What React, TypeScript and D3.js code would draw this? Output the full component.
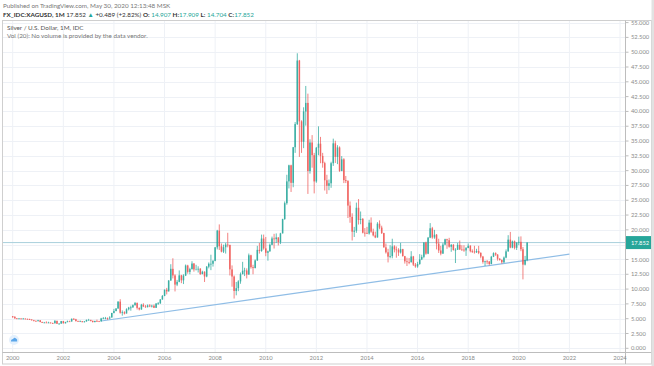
import * as d3 from 'd3';
import React from 'react';

// monthly closes, one row per year (2000 .. 2020)
const closes: number[][] = [
  [5.28, 5.05, 5.03, 5.04, 4.98, 5.02, 4.98, 4.93, 4.86, 4.73, 4.63, 4.58],
  [4.73, 4.44, 4.35, 4.36, 4.35, 4.35, 4.24, 4.22, 4.64, 4.14, 4.17, 4.59],
  [4.22, 4.42, 4.56, 4.53, 4.98, 4.9, 4.58, 4.57, 4.57, 4.41, 4.54, 4.79],
  [4.8, 4.64, 4.44, 4.62, 4.57, 4.55, 5.04, 5.06, 5.12, 5.04, 5.2, 5.97],
  [6.29, 6.71, 7.88, 6.0, 6.09, 5.87, 6.59, 6.88, 6.91, 7.29, 7.64, 6.82],
  [6.57, 7.35, 7.06, 6.95, 7.24, 7.07, 7.19, 6.84, 7.57, 7.6, 8.25, 8.83],
  [9.88, 9.61, 11.45, 13.42, 12.3, 10.76, 11.22, 12.32, 11.48, 12.28, 13.98, 12.9],
  [13.37, 14.31, 13.32, 13.32, 13.43, 12.53, 12.93, 12.13, 13.78, 14.28, 14.28, 14.76],
  [17.04, 19.87, 17.23, 16.32, 17.07, 17.52, 17.45, 13.33, 12.12, 9.68, 10.15, 11.3],
  [12.51, 13.09, 13.14, 12.46, 15.71, 13.7, 13.55, 14.84, 16.62, 16.44, 18.53, 16.87],
  [16.13, 16.38, 17.48, 18.55, 18.43, 18.72, 17.94, 19.41, 21.82, 24.51, 28.19, 30.9],
  [27.94, 33.95, 37.86, 48.59, 38.32, 34.88, 39.99, 41.44, 29.93, 34.75, 32.61, 28.18],
  [33.86, 34.55, 32.48, 31.27, 28.37, 27.44, 27.87, 31.25, 34.61, 32.33, 33.92, 29.95],
  [31.91, 28.4, 28.24, 24.1, 22.2, 19.69, 19.86, 23.73, 21.67, 21.85, 19.52, 19.49],
  [19.38, 21.22, 19.7, 19.07, 18.72, 21.04, 20.38, 19.46, 17.05, 16.21, 15.48, 15.56],
  [17.22, 16.7, 16.63, 16.18, 16.75, 15.56, 14.69, 14.58, 14.53, 15.51, 14.13, 13.82],
  [14.24, 15.01, 15.44, 17.87, 15.98, 18.68, 20.27, 18.72, 19.18, 17.68, 16.52, 15.99],
  [17.51, 18.41, 18.25, 17.15, 17.47, 16.6, 16.65, 17.47, 16.68, 16.67, 16.53, 16.94],
  [17.32, 16.41, 16.34, 16.22, 16.42, 16.12, 15.49, 14.58, 14.69, 14.67, 14.24, 15.46],
  [16.06, 15.82, 15.11, 14.91, 14.53, 15.32, 16.37, 18.35, 17.01, 18.06, 16.97, 17.85],
  [17.98, 16.73, 14.13, 14.907, 17.852],
];

const highs: number[][] = [
  [5.45, 5.45, 5.12, 5.12, 5.05, 5.12, 5.05, 5.0, 5.0, 4.9, 4.8, 4.7],
  [4.8, 4.75, 4.5, 4.45, 4.55, 4.48, 4.36, 4.33, 4.75, 4.65, 4.25, 4.62],
  [4.62, 4.48, 4.68, 4.66, 5.03, 5.1, 4.98, 4.68, 4.7, 4.6, 4.6, 4.85],
  [4.97, 4.8, 4.66, 4.65, 4.84, 4.64, 5.14, 5.28, 5.3, 5.2, 5.42, 5.98],
  [6.65, 6.8, 7.95, 8.29, 6.4, 6.25, 6.75, 7.0, 7.2, 7.4, 7.82, 7.75],
  [6.9, 7.5, 7.6, 7.3, 7.4, 7.45, 7.35, 7.4, 7.6, 7.8, 8.3, 9.0],
  [9.95, 10.2, 11.5, 14.2, 15.2, 12.5, 11.55, 13.15, 12.4, 12.5, 14.15, 14.1],
  [13.6, 14.7, 14.4, 14.1, 13.85, 13.55, 13.1, 13.0, 13.9, 14.5, 15.8, 14.9],
  [17.1, 20.0, 20.92, 17.7, 17.5, 17.8, 19.5, 17.5, 14.0, 12.3, 11.2, 11.5],
  [12.8, 14.6, 13.6, 13.5, 16.0, 15.8, 14.1, 15.0, 17.3, 17.8, 19.2, 19.2],
  [18.8, 16.5, 17.7, 18.86, 19.33, 19.4, 18.75, 19.5, 21.88, 24.8, 29.3, 31.0],
  [31.0, 34.0, 38.2, 49.82, 48.7, 38.5, 40.7, 44.3, 43.0, 35.3, 36.0, 33.0],
  [34.0, 37.48, 35.7, 33.0, 31.5, 29.3, 28.5, 31.5, 35.4, 35.05, 34.3, 34.1],
  [32.45, 32.1, 29.1, 28.4, 24.8, 22.8, 20.5, 24.6, 25.2, 23.1, 22.0, 20.3],
  [20.5, 21.7, 22.1, 20.2, 19.7, 21.3, 21.6, 20.7, 19.5, 17.7, 16.8, 17.4],
  [18.5, 17.4, 17.2, 16.9, 17.8, 16.8, 15.6, 15.3, 15.25, 16.4, 15.6, 14.4],
  [14.6, 15.9, 15.8, 17.9, 18.0, 18.8, 21.14, 20.5, 20.0, 19.3, 18.5, 17.3],
  [17.8, 18.5, 18.5, 18.65, 17.6, 17.6, 16.9, 17.8, 18.2, 17.4, 17.4, 17.1],
  [17.7, 17.4, 16.7, 17.3, 16.8, 17.3, 16.2, 15.6, 14.8, 14.9, 14.7, 15.6],
  [16.2, 16.2, 15.9, 15.25, 15.0, 15.5, 16.7, 19.1, 19.65, 18.2, 18.2, 17.9],
  [18.85, 18.9, 17.1, 15.6, 17.909],
];

const lows: number[][] = [
  [5.15, 5.0, 4.95, 4.98, 4.9, 4.95, 4.9, 4.85, 4.8, 4.7, 4.55, 4.55],
  [4.55, 4.4, 4.3, 4.3, 4.3, 4.28, 4.21, 4.18, 4.2, 4.12, 4.03, 4.15],
  [4.2, 4.2, 4.4, 4.5, 4.5, 4.8, 4.55, 4.5, 4.48, 4.4, 4.38, 4.51],
  [4.75, 4.54, 4.36, 4.37, 4.52, 4.5, 4.51, 4.95, 4.9, 4.8, 4.9, 5.2],
  [5.9, 6.25, 6.7, 5.85, 5.51, 5.72, 5.9, 6.4, 6.35, 6.85, 7.2, 6.55],
  [6.4, 6.5, 6.96, 6.85, 6.9, 6.95, 6.9, 6.8, 6.82, 7.35, 7.5, 8.2],
  [8.8, 9.1, 9.6, 11.4, 11.8, 9.6, 10.5, 11.15, 11.0, 10.85, 12.2, 12.6],
  [12.5, 13.3, 12.95, 13.3, 12.8, 12.4, 12.5, 11.2, 12.0, 13.5, 13.2, 13.8],
  [14.7, 16.7, 16.6, 16.2, 16.1, 16.0, 17.05, 12.3, 10.4, 8.4, 8.95, 9.65],
  [10.9, 12.5, 12.2, 11.8, 12.4, 13.45, 12.5, 13.5, 14.75, 16.0, 16.3, 16.65],
  [15.55, 14.8, 16.3, 17.4, 16.85, 17.8, 17.37, 17.6, 19.4, 21.7, 24.25, 27.0],
  [26.4, 27.2, 33.0, 37.7, 32.32, 33.0, 33.8, 37.6, 26.07, 29.5, 30.5, 26.16],
  [27.95, 32.6, 31.25, 30.5, 26.65, 26.07, 26.7, 27.1, 30.8, 31.3, 31.1, 29.8],
  [29.9, 27.9, 27.9, 22.0, 21.2, 18.2, 18.8, 19.5, 20.9, 20.95, 19.4, 18.85],
  [19.3, 19.2, 19.5, 18.9, 18.6, 18.7, 20.1, 19.3, 17.0, 16.0, 14.5, 15.2],
  [15.2, 16.2, 15.3, 15.6, 16.0, 15.5, 14.3, 13.9, 14.2, 14.5, 13.9, 13.6],
  [13.6, 14.1, 14.9, 15.2, 15.8, 15.9, 18.6, 18.5, 18.5, 16.7, 16.1, 15.7],
  [15.95, 17.4, 16.8, 17.0, 16.3, 16.5, 14.4, 16.6, 16.6, 16.5, 16.3, 15.6],
  [16.9, 16.2, 16.1, 16.0, 16.1, 15.9, 15.2, 14.3, 13.9, 14.2, 14.0, 14.2],
  [15.4, 15.6, 14.8, 14.8, 14.3, 14.4, 15.2, 16.3, 16.9, 16.9, 16.7, 16.6],
  [17.4, 16.4, 11.64, 14.0, 14.704],
];

const firstYear = 2000;
const firstOpen = 5.4;
const lastPrice = 17.852;

// trend line anchors
const trendFrom = { year: 2003, month: 6, price: 4.62 };
const trendTo = { year: 2022, month: 0, price: 15.9 };

const yTicks = d3.range(0, 55.001, 2.5);
const xTickYears = d3.range(2000, 2025, 2);

const W = 654;
const H = 366;
const paneLeft = 2.5;
const paneTop = 20.5;
const paneRight = 625.5;
const paneBottom = 352.5;

const UP = '#26a69a';
const DOWN = '#ef5350';
const FONT = 'Lato, "Open Sans", sans-serif';

interface Candle {
  date: Date;
  open: number;
  high: number;
  low: number;
  close: number;
}

const candles: Candle[] = [];
closes.forEach((row, yi) => {
  row.forEach((c, m) => {
    const prev = candles.length ? candles[candles.length - 1].close : firstOpen;
    candles.push({
      date: new Date(firstYear + yi, m, 1),
      open: prev,
      high: highs[yi][m],
      low: lows[yi][m],
      close: c,
    });
  });
});

const App: React.FC = () => {
  const x = d3
    .scaleTime()
    .domain([new Date(2000, 0, 1), new Date(2024, 0, 1)])
    .range([12.7, 620]);
  const y = d3.scaleLinear().domain([0, 55]).range([348.3, 22.6]);
  const fmt = d3.format('.3f');

  const trendLine = d3
    .line<{ date: Date; price: number }>()
    .x((d) => x(d.date))
    .y((d) => y(d.price));
  const trendPts = [
    { date: new Date(trendFrom.year, trendFrom.month, 1), price: trendFrom.price },
    { date: new Date(trendTo.year, trendTo.month, 1), price: trendTo.price },
  ];

  const bodyW = 1.5;
  // the price tag hides labels that would sit under it
  const axisTicks = yTicks.filter((t) => Math.abs(y(t) - y(lastPrice)) > 8);

  return (
    <svg
      width={W}
      height={H}
      style={{ position: 'absolute', left: 0, top: 0, fontFamily: FONT }}
    >
      <rect width={W} height={H} fill="#fff" />
      <defs>
        <clipPath id="pane">
          <rect x={paneLeft} y={paneTop} width={paneRight - paneLeft} height={paneBottom - paneTop} />
        </clipPath>
      </defs>

      {/* grid */}
      <g stroke="#eef1f6" strokeWidth={1}>
        {yTicks.map((t) => (
          <line key={t} x1={paneLeft} x2={paneRight} y1={Math.round(y(t)) + 0.5} y2={Math.round(y(t)) + 0.5} />
        ))}
        {xTickYears.map((yr) => (
          <line key={yr} x1={x(new Date(yr, 0, 1))} x2={x(new Date(yr, 0, 1))} y1={paneTop} y2={paneBottom} />
        ))}
      </g>

      {/* header */}
      <text x={3} y={7.5} fontSize={6.3} fill="#777">
        Published on TradingView.com, May 30, 2020 12:13:48 MSK
      </text>
      <text x={3} y={16.5} fontSize={6.3} fill="#333">
        <tspan fontWeight="bold">FX_IDC:XAGUSD, 1M</tspan>
        <tspan> 17.852 </tspan>
        <tspan fill={UP}>▲</tspan>
        <tspan> +0.489 (+2.82%) </tspan>
        <tspan fontWeight="bold">O:</tspan>
        <tspan fill={UP}> 14.907 </tspan>
        <tspan fontWeight="bold">H:</tspan>
        <tspan fill={UP}>17.909 </tspan>
        <tspan fontWeight="bold">L:</tspan>
        <tspan fill={UP}> 14.704 </tspan>
        <tspan fontWeight="bold">C:</tspan>
        <tspan fill={UP}>17.852</tspan>
      </text>

      <g clipPath="url(#pane)">
        {/* last price line */}
        <line x1={paneLeft} x2={paneRight} y1={y(lastPrice)} y2={y(lastPrice)} stroke="#a9d0dc" strokeWidth={1} />
        {/* trend line */}
        <path d={trendLine(trendPts) ?? ''} fill="none" stroke="#8fbde6" strokeWidth={1.1} />
        {candles.map((d, i) => {
          const cx = x(d.date);
          const color = d.close >= d.open ? UP : DOWN;
          const top = y(Math.max(d.open, d.close));
          const bot = y(Math.min(d.open, d.close));
          return (
            <g key={i} opacity={0.9}>
              <line x1={cx} x2={cx} y1={y(d.high)} y2={y(d.low)} stroke={color} strokeWidth={0.8} />
              <rect x={cx - bodyW / 2} y={top} width={bodyW} height={Math.max(0.8, bot - top)} fill={color} />
            </g>
          );
        })}
      </g>

      {/* pane legend */}
      <text x={7} y={29.5} fontSize={6.3} fill="#555">
        Silver / U.S. Dollar, 1M, IDC
      </text>
      <text x={7} y={38} fontSize={6.3} fill="#777">
        Vol (20): No volume is provided by the data vendor.
      </text>

      {/* frame */}
      <rect x={paneLeft} y={paneTop} width={649} height={343.5} fill="none" stroke="#cfcfcf" />
      <line x1={paneRight} x2={paneRight} y1={paneTop} y2={364} stroke="#bdbdbd" />
      <line x1={paneLeft} x2={651.5} y1={paneBottom} y2={paneBottom} stroke="#bdbdbd" />
      <rect x={651.5} y={0} width={2.5} height={H} fill="#e2e2e2" />

      {/* price axis */}
      {yTicks.map((t) => (
        <line key={t} x1={paneRight} x2={paneRight + 3} y1={y(t)} y2={y(t)} stroke="#bdbdbd" />
      ))}
      {axisTicks.map((t) => (
        <text key={t} x={631} y={y(t)} dy="0.35em" fontSize={5.8} fill="#8a8a8a">
          {fmt(t)}
        </text>
      ))}
      <rect x={paneRight + 0.5} y={y(lastPrice) - 6.5} width={25} height={13} fill={UP} />
      <text x={631} y={y(lastPrice)} dy="0.35em" fontSize={5.8} fill="#fff">
        {fmt(lastPrice)}
      </text>

      {/* time axis */}
      {xTickYears.map((yr) => (
        <text key={yr} x={x(new Date(yr, 0, 1))} y={359.5} textAnchor="middle" fontSize={5.8} fill="#8a8a8a">
          {yr}
        </text>
      ))}

      {/* logo */}
      <g transform="translate(14,340)">
        <circle r={5} fill="#e3f0fd" />
        <path d="M-3,1.5 Q-3.2,-1 -0.8,-1 Q0,-3 2,-1.6 Q3.6,-1.4 3.2,1.5 Z" fill="#5aa6ea" />
      </g>
    </svg>
  );
};

export default App;
